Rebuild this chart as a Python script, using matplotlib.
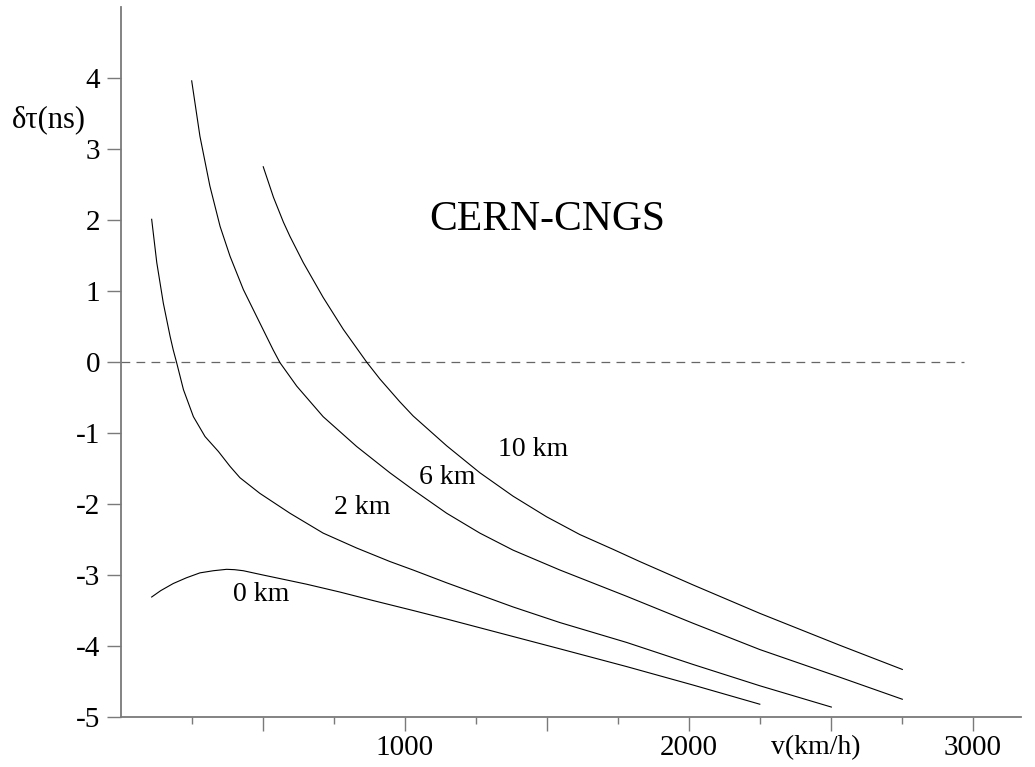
import matplotlib
matplotlib.use("Agg")
import matplotlib.pyplot as plt
from matplotlib.ticker import FixedLocator

plt.rcParams['font.family'] = ['Liberation Serif', 'DejaVu Serif']
plt.rcParams['axes.unicode_minus'] = False

# Data: v in km/h, delta tau in ns
v_0km = [108, 140, 184, 230, 278, 325, 372, 400, 431, 500, 595, 654, 771, 888, 1029, 1147, 1299, 1546, 1781, 2015, 2250]
dt_0km = [-3.31, -3.22, -3.12, -3.04, -2.97, -2.94, -2.92, -2.925, -2.94, -3.00, -3.08, -3.13, -3.24, -3.36, -3.50, -3.62, -3.78, -4.04, -4.29, -4.55, -4.82]

v_2km = [108, 126, 149, 173, 184, 196, 220, 255, 296, 343, 384, 419, 489, 595, 712, 830, 947, 1029, 1147, 1264, 1381, 1546, 1781, 2015, 2250, 2502]
dt_2km = [2.01, 1.40, 0.83, 0.36, 0.17, -0.01, -0.39, -0.77, -1.05, -1.26, -1.47, -1.63, -1.85, -2.13, -2.41, -2.62, -2.81, -2.93, -3.11, -3.28, -3.45, -3.67, -3.95, -4.26, -4.56, -4.86]

v_6km = [249, 278, 313, 349, 384, 431, 489, 536, 560, 619, 712, 830, 947, 1029, 1147, 1264, 1381, 1546, 1781, 2015, 2250, 2532, 2752]
dt_6km = [3.96, 3.18, 2.48, 1.91, 1.49, 1.02, 0.55, 0.17, -0.01, -0.34, -0.77, -1.19, -1.56, -1.80, -2.13, -2.41, -2.65, -2.93, -3.30, -3.68, -4.05, -4.44, -4.75]

v_10km = [501, 537, 572, 595, 642, 712, 783, 865, 912, 982, 1029, 1147, 1264, 1381, 1499, 1616, 1734, 1827, 2015, 2250, 2532, 2752]
dt_10km = [2.75, 2.32, 1.97, 1.77, 1.40, 0.91, 0.46, 0.00, -0.24, -0.56, -0.76, -1.18, -1.56, -1.89, -2.18, -2.43, -2.64, -2.81, -3.14, -3.54, -3.99, -4.33]

curve_labels = ["0 km", "2 km", "6 km", "10 km"]
label_pos_v = [495, 850, 1150, 1450]
label_pos_dt = [-3.27, -2.05, -1.63, -1.23]

x_major = [500, 1000, 1500, 2000, 2500, 3000]
x_minor = [250, 750, 1250, 1750, 2250, 2750]
x_labels = {1000: "1000", 2000: "2000", 3000: "3000"}
y_ticks = [-5, -4, -3, -2, -1, 0, 1, 2, 3, 4]

W, H = 1035, 767
fig = plt.figure(figsize=(W / 100, H / 100), dpi=100)
ax = fig.add_axes([121 / W, 50 / H, (1021 - 121) / W, (760 - 50) / H])
ax.set_xlim(0, 3170)
ax.set_ylim(-5, 5)

axis_col = '#7a7a7a'
for s in ['top', 'right']:
    ax.spines[s].set_visible(False)
for s in ['left', 'bottom']:
    ax.spines[s].set_color(axis_col)
    ax.spines[s].set_linewidth(1.3)

ax.xaxis.set_major_locator(FixedLocator(x_major))
ax.xaxis.set_minor_locator(FixedLocator(x_minor))
ax.set_xticklabels([x_labels.get(t, "") for t in x_major])
ax.set_yticks(y_ticks)
ax.set_yticklabels([str(t) for t in y_ticks])

ax.tick_params(axis='x', which='major', length=10, width=1.0, color=axis_col, labelsize=21, pad=3)
ax.tick_params(axis='x', which='minor', length=5, width=1.0, color=axis_col)
ax.tick_params(axis='y', which='major', length=10, width=1.0, color=axis_col, labelsize=21, pad=5)

ax.plot([0, 2970], [0, 0], color='#666666', lw=0.9, dashes=(7, 5))

for vv, dd in [(v_0km, dt_0km), (v_2km, dt_2km), (v_6km, dt_6km), (v_10km, dt_10km)]:
    ax.plot(vv, dd, color='black', lw=0.8, solid_joinstyle='round')

for lab, lv, ld in zip(curve_labels, label_pos_v, label_pos_dt):
    ax.text(lv, ld, lab, fontsize=20, ha='center', va='center')

ax.text(1500, 2.0, "CERN-CNGS", fontsize=30, ha='center', va='center')
fig.text(49 / W, 1 - 120 / H, "δτ(ns)", fontsize=22, ha='center', va='center')
fig.text(816 / W, 1 - 748 / H, "v(km/h)", fontsize=20, ha='center', va='center')

fig.savefig("out.png", dpi=100)
